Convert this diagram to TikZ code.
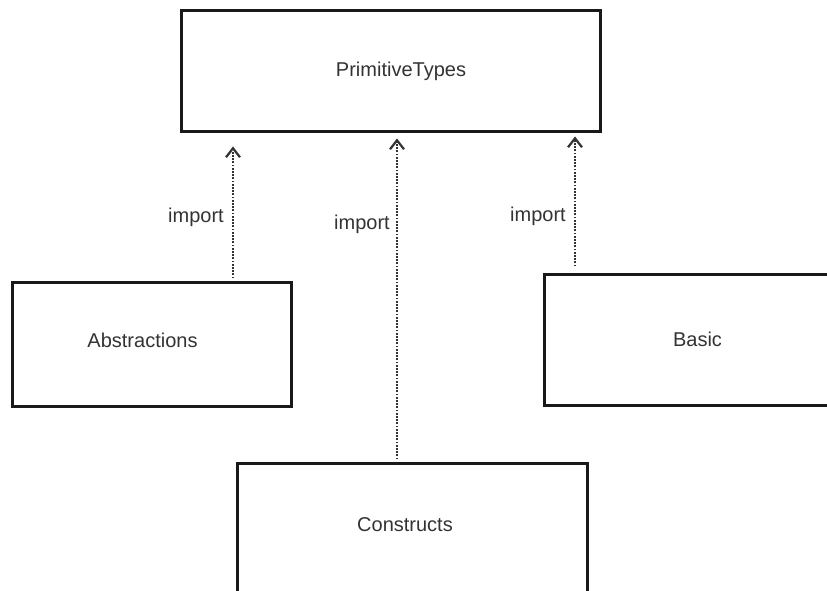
\documentclass[tikz,border=0pt]{standalone}
\usepackage{fontspec}
\setmainfont{Liberation Sans}
\usetikzlibrary{arrows.meta}
\begin{document}
\begin{tikzpicture}[x=1pt,y=1pt,
  box/.style={draw=black!90, line width=3pt, fill=white, rectangle, inner sep=0pt},
  txt/.style={text=black!80, font=\fontsize{20}{24}\selectfont},
  imp/.style={draw=black!80, line width=2.4pt, dash pattern=on 1.8pt off 1.4pt,
    -{Straight Barb[length=9pt,width=14pt,line width=2.2pt]}},
  lbl/.style={txt, inner sep=0pt}]
\useasboundingbox (0,0) rectangle (827,591);
\begin{scope}
\clip (0,0) rectangle (827,591);
\node[box, minimum width=419pt, minimum height=121pt,
  label={[txt, xshift=10.5pt]center:PrimitiveTypes}] (prim) at (390.5,519.5) {};
\node[box, minimum width=279pt, minimum height=124pt,
  label={[txt, xshift=-9pt, yshift=5pt]center:Abstractions}] (abs) at (151.5,246) {};
\node[box, minimum width=306pt, minimum height=131pt,
  label={[txt, xshift=0.5pt, yshift=1pt]center:Basic}] (bas) at (697,250.5) {};
\node[box, minimum width=350pt, minimum height=130pt,
  label={[txt, xshift=-7pt, yshift=4pt]center:Constructs}] (cons) at (412,62) {};

\draw[imp] ([xshift=81.5pt,yshift=3pt]abs.north) -- ([xshift=-157.5pt,yshift=-13pt]prim.south);
\draw[imp] ([xshift=-15pt,yshift=3pt]cons.north) -- ([xshift=6.5pt,yshift=-5pt]prim.south);
\draw[imp] ([xshift=-122pt,yshift=7pt]bas.north) -- ([xshift=184.5pt,yshift=-3pt]prim.south);

\node[lbl] (l1) at (196,374) {import};
\node[lbl] (l2) at (362,367) {import};
\node[lbl] (l3) at (538,375) {import};
\end{scope}
\end{tikzpicture}
\end{document}
